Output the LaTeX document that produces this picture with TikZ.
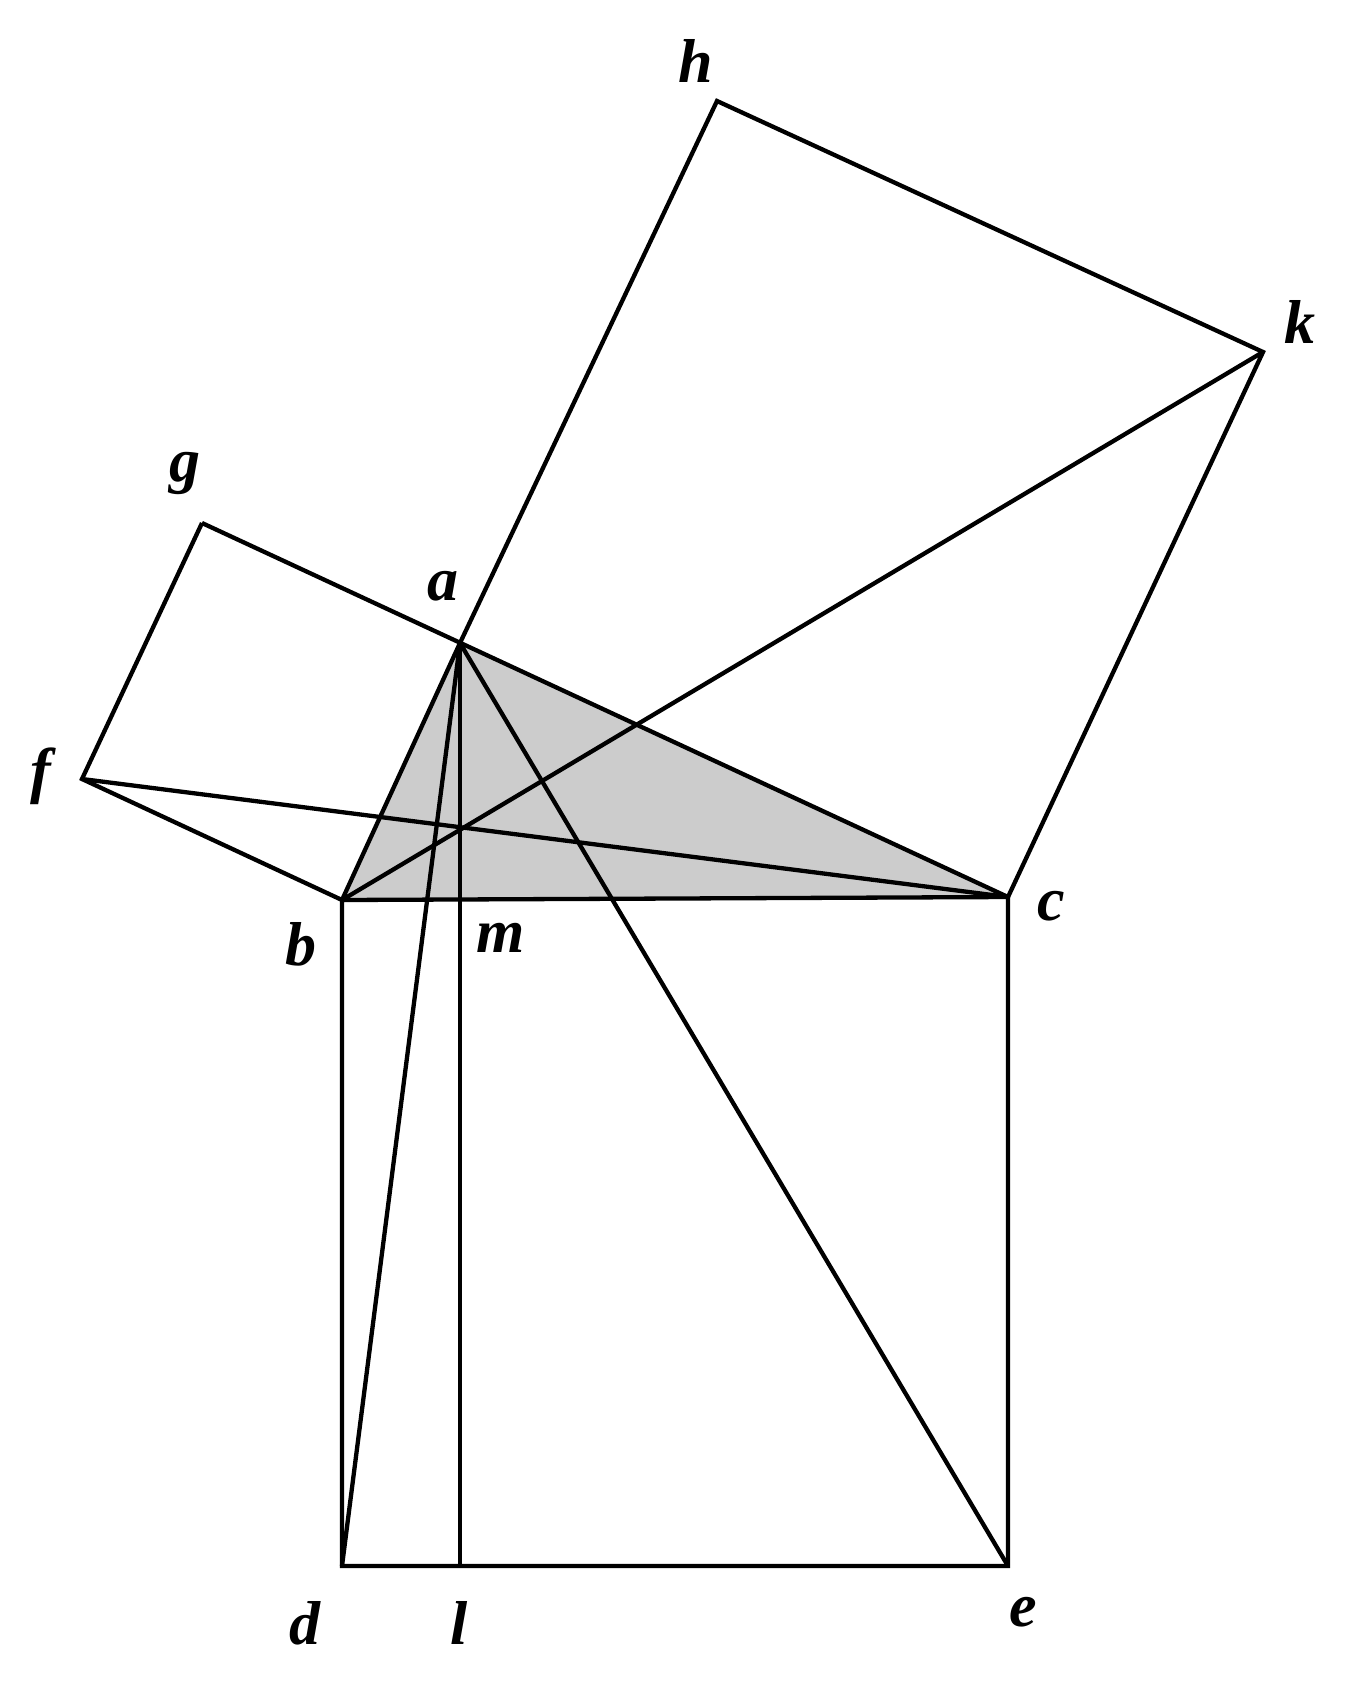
\documentclass[tikz,border=0pt]{standalone}
\usepackage{fontspec}
\setmainfont{Liberation Serif}
\begin{document}
\begin{tikzpicture}[x=1pt,y=-1pt,line width=4.3pt,line join=miter,
  lab/.style={font=\fontsize{62}{62}\selectfont\bfseries\itshape,inner sep=0pt}]
\useasboundingbox (0,0) rectangle (1357,1684);
\coordinate (b) at (342,900); \coordinate (c) at (1008,897);
\coordinate (d) at (342,1566); \coordinate (e) at (1008,1566);
\coordinate (a) at (460,643); \coordinate (m) at (460,900);
\coordinate (l) at (460,1566); \coordinate (g) at (202,523);
\coordinate (f) at (82,779); \coordinate (h) at (717,101);
\coordinate (k) at (1263,352);
\fill[black!20] (a) -- (b) -- (c) -- cycle;
\draw (b) -- (c) -- (e) -- (d) -- cycle;
\draw (a) -- (b);
\draw (g) -- (c);
\draw (b) -- (f) -- (g);
\draw (a) -- (h) -- (k) -- (c);
\draw (f) -- (c);
\draw (b) -- (k);
\draw (a) -- (d);
\draw (a) -- (e);
\draw (a) -- (l);
\node[lab] (lh) at (696,61) {h};
\node[lab] (lk) at (1300,322) {k};
\node[lab] (lg) at (185,473) {g};
\node[lab] (la) at (443,586) {a};
\node[lab] (lf) at (41,776) {f};
\node[lab] (lb) at (301,944) {b};
\node[lab] (lm) at (501,938) {m};
\node[lab] (lc) at (1051,906) {c};
\node[lab] (ld) at (305,1623) {d};
\node[lab] (ll) at (459,1623) {l};
\node[lab] (le) at (1023,1612) {e};
\end{tikzpicture}
\end{document}
